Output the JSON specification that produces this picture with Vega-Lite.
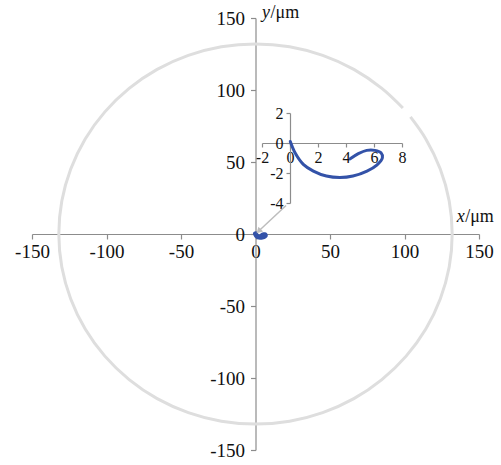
{
  "$schema": "https://vega.github.io/schema/vega-lite/v6.json",
  "width": 447,
  "height": 432,
  "autosize": {"type": "none"},
  "padding": {"left": 32, "top": 18, "right": 22, "bottom": 15},
  "background": "white",
  "config": {
    "view": {"stroke": null},
    "axis": {
      "grid": false,
      "domainColor": "#8c8c8c",
      "tickColor": "#8c8c8c",
      "domainWidth": 1.2,
      "tickWidth": 1.2,
      "labelFont": "Liberation Serif",
      "labelColor": "#111111",
      "labelFlush": false,
      "labelOverlap": false,
      "labelExpr": "'' + datum.value",
      "title": null
    }
  },
  "datasets": {
    "circle": [
      {"x": 98.9, "y": 87.5, "order": 0},
      {"x": 84.8, "y": 101.1, "order": 1},
      {"x": 66.0, "y": 114.3, "order": 2},
      {"x": 45.1, "y": 124.0, "order": 3},
      {"x": 22.9, "y": 130.0, "order": 4},
      {"x": 0, "y": 132, "order": 5},
      {"x": -22.9, "y": 130.0, "order": 6},
      {"x": -45.1, "y": 124.0, "order": 7},
      {"x": -66.0, "y": 114.3, "order": 8},
      {"x": -84.8, "y": 101.1, "order": 9},
      {"x": -101.1, "y": 84.8, "order": 10},
      {"x": -114.3, "y": 66.0, "order": 11},
      {"x": -124.0, "y": 45.1, "order": 12},
      {"x": -130.0, "y": 22.9, "order": 13},
      {"x": -132, "y": 0, "order": 14},
      {"x": -130.0, "y": -22.9, "order": 15},
      {"x": -124.0, "y": -45.1, "order": 16},
      {"x": -114.3, "y": -66.0, "order": 17},
      {"x": -101.1, "y": -84.8, "order": 18},
      {"x": -84.8, "y": -101.1, "order": 19},
      {"x": -66.0, "y": -114.3, "order": 20},
      {"x": -45.1, "y": -124.0, "order": 21},
      {"x": -22.9, "y": -130.0, "order": 22},
      {"x": 0, "y": -132, "order": 23},
      {"x": 22.9, "y": -130.0, "order": 24},
      {"x": 45.1, "y": -124.0, "order": 25},
      {"x": 66.0, "y": -114.3, "order": 26},
      {"x": 84.8, "y": -101.1, "order": 27},
      {"x": 101.1, "y": -84.8, "order": 28},
      {"x": 114.3, "y": -66.0, "order": 29},
      {"x": 124.0, "y": -45.1, "order": 30},
      {"x": 130.0, "y": -22.9, "order": 31},
      {"x": 132, "y": 0, "order": 32},
      {"x": 130.0, "y": 22.9, "order": 33},
      {"x": 124.0, "y": 45.1, "order": 34},
      {"x": 114.3, "y": 66.0, "order": 35},
      {"x": 104.0, "y": 81.3, "order": 36}
    ],
    "traj": [
      {"x": 0.02, "y": 0.1, "order": 0},
      {"x": 0.36, "y": -0.65, "order": 1},
      {"x": 0.95, "y": -1.42, "order": 2},
      {"x": 1.67, "y": -1.87, "order": 3},
      {"x": 2.6, "y": -2.2, "order": 4},
      {"x": 3.57, "y": -2.3, "order": 5},
      {"x": 4.5, "y": -2.2, "order": 6},
      {"x": 5.5, "y": -1.87, "order": 7},
      {"x": 6.2, "y": -1.47, "order": 8},
      {"x": 6.6, "y": -0.98, "order": 9},
      {"x": 6.5, "y": -0.65, "order": 10},
      {"x": 6.07, "y": -0.49, "order": 11},
      {"x": 5.48, "y": -0.49, "order": 12},
      {"x": 4.88, "y": -0.71, "order": 13},
      {"x": 4.3, "y": -1.05, "order": 14}
    ],
    "arrow": [
      {"x": 20.5, "y": 19.8, "order": 0},
      {"x": 2.0, "y": 1.9, "order": 1}
    ],
    "arrowhead": [
      {"x": 2.6, "y": 2.5}
    ],
    "titles": [
      {"x": 4.4, "y": 150, "italic": "y", "roman": "/μm"},
      {"x": 135, "y": 8.3, "italic": "x", "roman": "/μm"}
    ]
  },
  "layer": [
    {
      "encoding": {
        "x": {
          "field": "x", "type": "quantitative",
          "scale": {"domain": [-150, 150], "nice": false, "zero": false},
          "axis": {
            "orient": "bottom", "offset": -216,
            "values": [-150, -100, -50, 0, 50, 100, 150],
            "tickSize": 5, "labelFontSize": 19, "labelPadding": 3
          }
        },
        "y": {
          "field": "y", "type": "quantitative",
          "scale": {"domain": [-150, 150], "nice": false, "zero": false},
          "axis": {
            "orient": "left", "offset": -223.5,
            "values": [-150, -100, -50, 0, 50, 100, 150],
            "tickSize": 5, "labelFontSize": 19, "labelPadding": 6
          }
        }
      },
      "layer": [
        {
          "data": {"name": "circle"},
          "mark": {"type": "line", "color": "#dedede", "strokeWidth": 3, "interpolate": "catmull-rom"},
          "encoding": {"order": {"field": "order", "type": "quantitative"}}
        },
        {
          "data": {"name": "traj"},
          "mark": {"type": "line", "color": "#3352a8", "strokeWidth": 5, "interpolate": "catmull-rom", "strokeCap": "round"},
          "encoding": {"order": {"field": "order", "type": "quantitative"}}
        },
        {
          "data": {"name": "arrow"},
          "mark": {"type": "line", "color": "#bdbdbd", "strokeWidth": 1.5},
          "encoding": {"order": {"field": "order", "type": "quantitative"}}
        },
        {
          "data": {"name": "arrowhead"},
          "mark": {"type": "point", "shape": "triangle", "filled": true, "color": "#bdbdbd", "size": 45, "angle": 225, "opacity": 1}
        },
        {
          "data": {"name": "titles"},
          "mark": {"type": "text", "font": "Liberation Serif", "fontSize": 18, "fontStyle": "italic", "align": "left", "baseline": "alphabetic", "color": "#111111"},
          "encoding": {"text": {"field": "italic"}}
        },
        {
          "data": {"name": "titles"},
          "mark": {"type": "text", "font": "Liberation Serif", "fontSize": 18, "align": "left", "baseline": "alphabetic", "dx": 8.5, "color": "#111111"},
          "encoding": {"text": {"field": "roman"}}
        }
      ]
    },
    {
      "data": {"name": "traj"},
      "mark": {"type": "line", "color": "#3352a8", "strokeWidth": 3, "interpolate": "catmull-rom", "strokeCap": "round"},
      "encoding": {
        "x": {
          "field": "x", "type": "quantitative",
          "scale": {"domain": [-2, 8], "range": [230, 370], "nice": false, "zero": false},
          "axis": {
            "orient": "bottom", "offset": -307,
            "values": [-2, 0, 2, 4, 6, 8],
            "tickSize": 4, "labelFontSize": 16, "labelPadding": 2
          }
        },
        "y": {
          "field": "y", "type": "quantitative",
          "scale": {"domain": [-4, 2], "range": [185, 95], "nice": false, "zero": false},
          "axis": {
            "orient": "left", "offset": -258,
            "values": [-4, -2, 0, 2],
            "tickSize": 4, "labelFontSize": 16, "labelPadding": 3
          }
        },
        "order": {"field": "order", "type": "quantitative"}
      }
    }
  ],
  "resolve": {
    "scale": {"x": "independent", "y": "independent"},
    "axis": {"x": "independent", "y": "independent"}
  }
}
